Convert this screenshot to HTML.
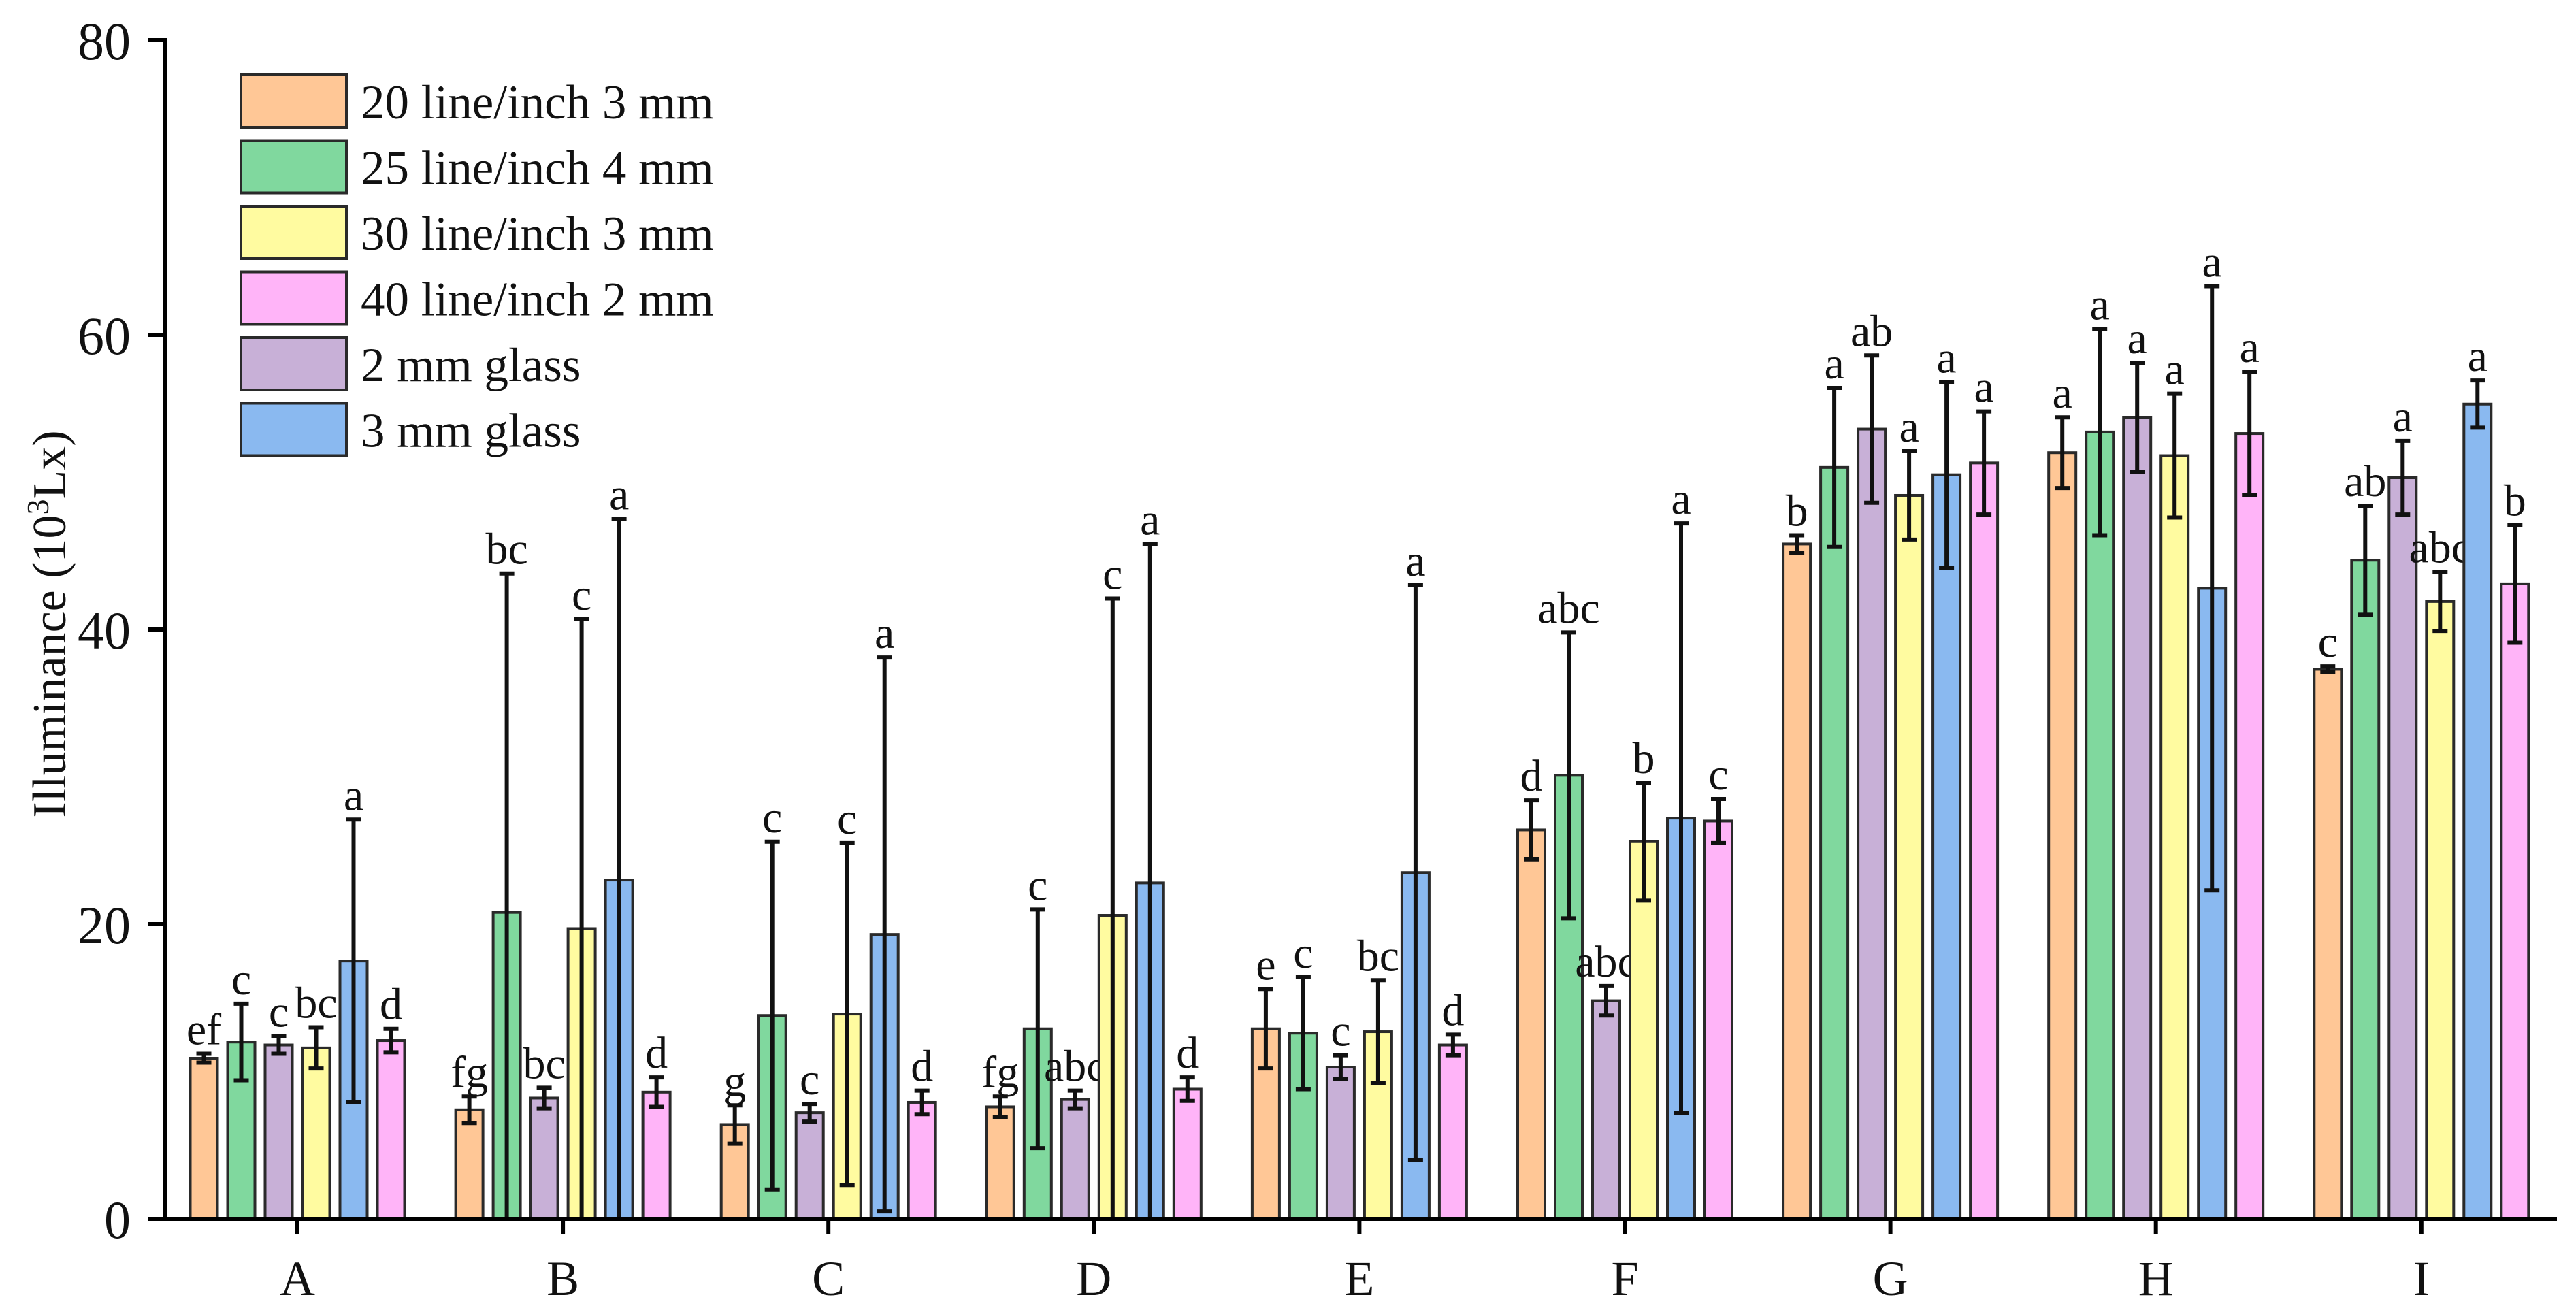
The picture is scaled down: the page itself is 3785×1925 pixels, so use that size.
<!DOCTYPE html>
<html><head><meta charset="utf-8"><style>
html,body{margin:0;padding:0;background:#fff;}
svg{display:block;font-family:"Liberation Serif",serif;}
</style></head><body>
<svg id="chart" width="3785" height="1925" viewBox="0 0 3785 1925">
<g id="bars"></g>
<g id="axes"></g>
<g id="legend"></g>
</svg>
<script>
const categories = ["A","B","C","D","E","F","G","H","I"];
const seriesNames = ["20 line/inch 3 mm","25 line/inch 4 mm","2 mm glass","30 line/inch 3 mm","3 mm glass","40 line/inch 2 mm"];
const s20 = [10.9,7.4,6.4,7.6,12.9,26.4,45.8,52.0,37.3];
const s25 = [12.0,20.8,13.8,12.9,12.6,30.1,51.0,53.4,44.7];
const g2  = [11.8,8.2,7.2,8.1,10.3,14.8,53.6,54.4,50.3];
const s30 = [11.6,19.7,13.9,20.6,12.7,25.6,49.1,51.8,41.9];
const g3  = [17.5,23.0,19.3,22.8,23.5,27.2,50.5,42.8,55.3];
const s40 = [12.1,8.6,7.9,8.8,11.8,27.0,51.3,53.3,43.1];
const e20 = [0.3,0.9,1.3,0.7,2.7,2.0,0.6,2.4,0.2];
const e25 = [2.6,23.0,11.8,8.1,3.8,9.7,5.4,7.0,3.7];
const eg2 = [0.6,0.7,0.6,0.6,0.8,1.0,5.0,3.7,2.5];
const e30 = [1.4,21.0,11.6,21.5,3.5,4.0,3.0,4.2,2.0];
const eg3 = [9.6,24.5,18.8,23.0,19.5,20.0,6.3,20.5,1.6];
const e40 = [0.8,1.0,0.8,0.8,0.7,1.5,3.5,4.2,4.0];
const l20 = ["ef","fg","g","fg","e","d","b","a","c"];
const l25 = ["c","bc","c","c","c","abc","a","a","ab"];
const lg2 = ["c","bc","c","abc","c","abc","ab","a","a"];
const l30 = ["bc","c","c","c","bc","b","a","a","abc"];
const lg3 = ["a","a","a","a","a","a","a","a","a"];
const l40 = ["d","d","d","d","d","c","a","a","b"];
const yTicks = [0,20,40,60,80];
const legendOrder = [0,1,3,5,2,4];

const values=[s20,s25,g2,s30,g3,s40], errs=[e20,e25,eg2,e30,eg3,e40], lets=[l20,l25,lg2,l30,lg3,l40];
const colors=["#FFC796","#80D89E","#C8B0D7","#FFFBA0","#8AB9F0","#FFB4F8"];
const NS="http://www.w3.org/2000/svg";
const x0=242,xEnd=3757,y0=1791,pxPer=21.65;
const yS=v=>y0-v*pxPer;
const xS=i=>437+i*390.1;
const pitch=55,bw=40;
function mk(t,a,p){const e=document.createElementNS(NS,t);for(const k in a)e.setAttribute(k,a[k]);p.appendChild(e);return e;}
const bars=document.getElementById('bars'),axes=document.getElementById('axes'),leg=document.getElementById('legend');
categories.forEach((c,i)=>{
  for(let s=0;s<6;s++){
    const cx=xS(i)+(s-2.5)*pitch,v=values[s][i],er=errs[s][i];
    const r=mk('rect',{x:cx-bw/2,y:yS(v),width:bw,height:y0-yS(v),fill:colors[s],stroke:'#2a2a2a','stroke-width':4},bars);
    
    
    const lo=Math.max(0,v-er);
    let d=`M${cx},${yS(lo)}V${yS(v+er)}M${cx-11},${yS(v+er)}h22`;
    if(v-er>0) d+=`M${cx-11},${yS(lo)}h22`;
    const eb=mk('path',{d:d,stroke:'#111','stroke-width':6,fill:'none'},bars);
    
    
    const t=mk('text',{x:cx,y:yS(v+er)-14,'font-size':66,'text-anchor':'middle',fill:'#111'},bars);
    t.textContent=lets[s][i];
    
    
  }
  const tk=mk('line',{x1:xS(i),x2:xS(i),y1:y0,y2:y0+22,stroke:'#000','stroke-width':6},axes);
  
  
  const tl=mk('text',{x:xS(i),y:1903,'font-size':72,'text-anchor':'middle',fill:'#111'},axes);
  tl.textContent=c;
  
  
});
const ya=mk('line',{x1:x0,x2:x0,y1:yS(80)-3,y2:y0+3,stroke:'#000','stroke-width':6},axes);


const xa=mk('line',{x1:x0-24,x2:xEnd,y1:y0,y2:y0,stroke:'#000','stroke-width':6},axes);


yTicks.forEach(v=>{
  const t=mk('line',{x1:x0-24,x2:x0,y1:yS(v),y2:yS(v),stroke:'#000','stroke-width':6},axes);
  
  
  const l=mk('text',{x:192,y:yS(v)+28,'font-size':78,'text-anchor':'end',fill:'#111'},axes);
  l.textContent=v;
  
  
});
const yt=mk('text',{x:0,y:0,'font-size':70,'text-anchor':'middle',fill:'#111',transform:'translate(96,917) rotate(-90)'},axes);
yt.innerHTML='Illuminance (10<tspan baseline-shift="super" font-size="46">3</tspan>Lx)';


legendOrder.forEach((s,k)=>{
  const y=110+k*96.5;
  const r=mk('rect',{x:354,y:y,width:155,height:77,fill:colors[s],stroke:'#2a2a2a','stroke-width':4},leg);
  
  
  const t=mk('text',{x:530,y:y+64,'font-size':71,fill:'#111'},leg);
  t.textContent=seriesNames[s];
  
  
});
</script>
</body></html>
